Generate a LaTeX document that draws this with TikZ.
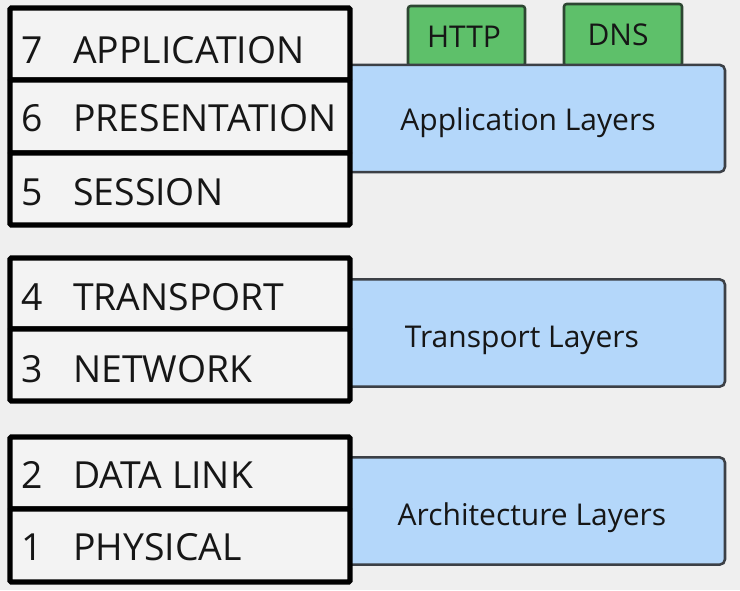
\documentclass[tikz,border=0pt]{standalone}
\usepackage{fontspec}
\setmainfont{Open Sans}
\definecolor{bgc}{RGB}{239,239,239}
\definecolor{rowfill}{RGB}{243,243,243}
\definecolor{bluefill}{RGB}{180,215,250}
\definecolor{blueedge}{RGB}{60,64,70}
\definecolor{greenfill}{RGB}{94,192,106}
\definecolor{greenedge}{RGB}{45,70,50}
\definecolor{txt}{RGB}{22,22,22}
\tikzset{
  rowbox/.style={draw=black, fill=rowfill, line width=4pt, rounded corners=1pt, minimum width=255pt, inner sep=0pt},
  layerbox/.style={draw=blueedge, fill=bluefill, line width=1.9pt, rounded corners=4pt, minimum width=288.75pt, minimum height=80.5pt, inner sep=0pt},
  protobox/.style={draw=greenedge, fill=greenfill, line width=1.9pt, rounded corners=2pt, inner sep=0pt},
  rowlbl/.style={font=\fontsize{28pt}{31pt}\selectfont, text=txt, anchor=base west, inner sep=0pt},
  laylbl/.style={font=\fontsize{22.5pt}{25pt}\selectfont, text=txt, anchor=base, inner sep=0pt},
}
\begin{document}
\begin{tikzpicture}[x=0.75pt,y=-0.75pt]
\useasboundingbox (0,0) rectangle (740,590);
\fill[bgc] (0,0) rectangle (740,590);
% green protocol boxes
\node[protobox, minimum width=87.75pt, minimum height=45pt] (http) at (466.5,36) {};
\node[protobox, minimum width=88.5pt, minimum height=46.5pt] (dns) at (623,35) {};
% blue layer boxes
\node[layerbox] (app) at (532.5,118.5) {};
\node[layerbox] (trans) at (532.5,333) {};
\node[layerbox] (arch) at (532.5,511) {};
% black OSI rows
\node[rowbox, minimum height=54pt] (r7) at (180,44) {};
\node[rowbox, minimum height=54.75pt] (r6) at (180,116.5) {};
\node[rowbox, minimum height=54pt] (r5) at (180,189) {};
\node[rowbox, minimum height=53.25pt] (r4) at (180,293.5) {};
\node[rowbox, minimum height=54pt] (r3) at (180,365) {};
\node[rowbox, minimum height=54pt] (r2) at (180,473) {};
\node[rowbox, minimum height=54.75pt] (r1) at (180,545.5) {};
% row labels
\node[rowlbl] (n7) at (21,63) {7};
\node[rowlbl] (t7) at (73,63) {APPLICATION};
\node[rowlbl] (n6) at (21,131) {6};
\node[rowlbl] (t6) at (73,131) {PRESENTATION};
\node[rowlbl] (n5) at (21,205) {5};
\node[rowlbl] (t5) at (73,205) {SESSION};
\node[rowlbl] (n4) at (21,310) {4};
\node[rowlbl] (t4) at (73,310) {TRANSPORT};
\node[rowlbl] (n3) at (21,382) {3};
\node[rowlbl] (t3) at (73,382) {NETWORK};
\node[rowlbl] (n2) at (21,488) {2};
\node[rowlbl] (t2) at (73,488) {DATA LINK};
\node[rowlbl] (n1) at (21,560) {1};
\node[rowlbl] (t1) at (73,560) {PHYSICAL};
% layer labels
\node[laylbl] (la) at (528,130) {Application Layers};
\node[laylbl] (lt) at (522,347) {Transport Layers};
\node[laylbl] (lr) at (532,525) {Architecture Layers};
\node[laylbl] (lh) at (464,47) {HTTP};
\node[laylbl] (ld) at (618,45) {DNS};
\end{tikzpicture}
\end{document}
